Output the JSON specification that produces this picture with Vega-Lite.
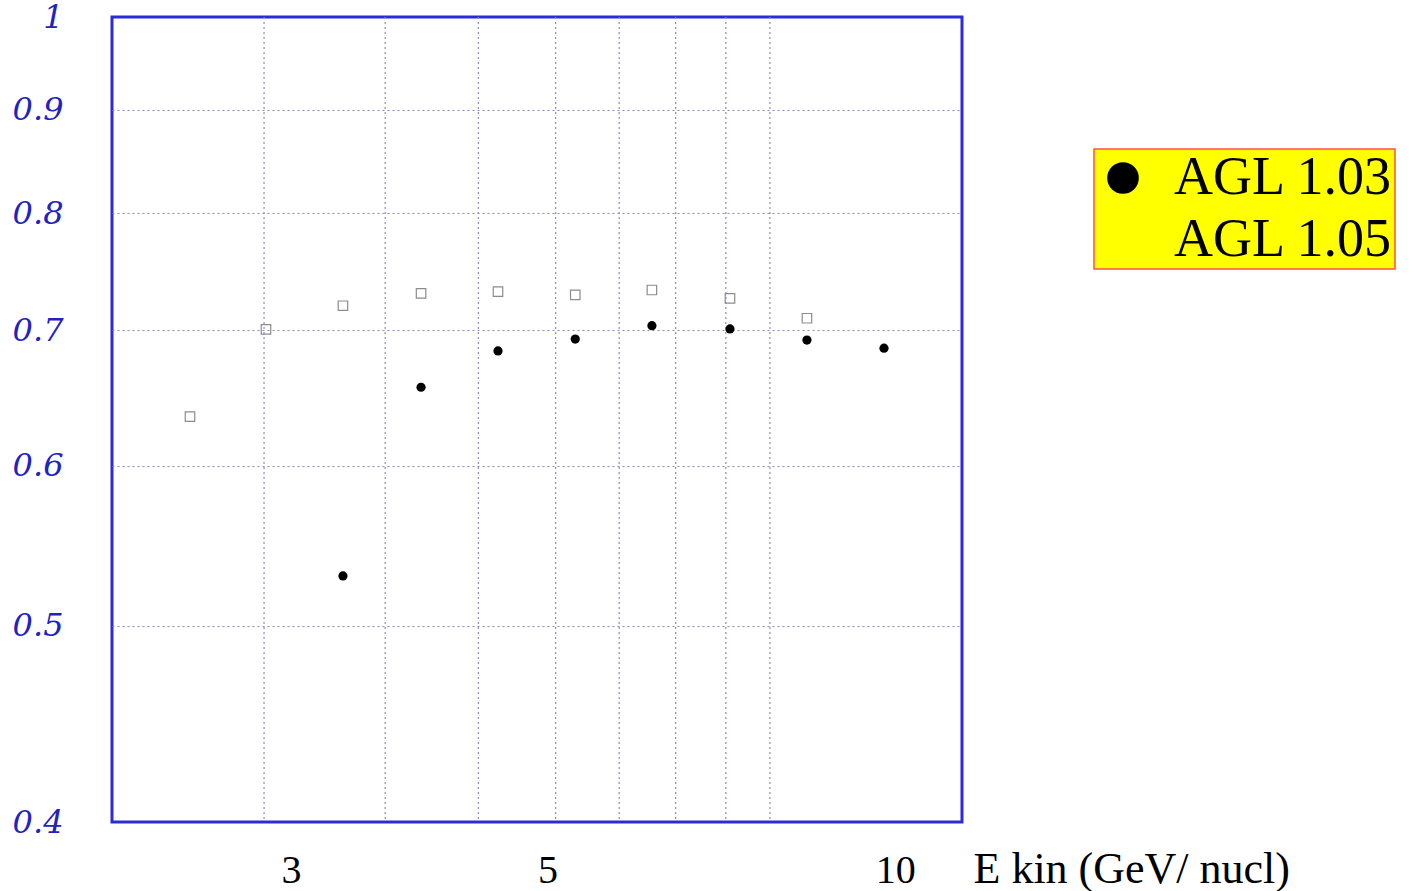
{
  "$schema": "https://vega.github.io/schema/vega-lite/v6.json",
  "autosize": "none",
  "width": 850,
  "height": 805,
  "padding": {"left": 112, "top": 17, "right": 452, "bottom": 69},
  "background": "white",
  "config": {
    "view": {"stroke": "#2b2bd8", "strokeWidth": 3},
    "legend": {
      "orient": "none",
      "legendX": 982,
      "legendY": 132,
      "fillColor": "#ffff00",
      "strokeColor": "#ff5050",
      "strokeWidth": 1.5,
      "padding": 2,
      "symbolSize": 1000,
      "symbolType": "circle",
      "symbolFillColor": "#000000",
      "symbolStrokeWidth": 0,
      "labelFont": "Liberation Serif",
      "labelFontSize": 54,
      "labelColor": "#000000",
      "labelOffset": 24,
      "labelLimit": 400,
      "rowPadding": 8
    }
  },
  "datasets": {
    "agl105": [
      {"x": 2.453, "y": 0.6345, "series": "AGL 1.05"},
      {"x": 2.854, "y": 0.7008, "series": "AGL 1.05"},
      {"x": 3.327, "y": 0.7199, "series": "AGL 1.05"},
      {"x": 3.887, "y": 0.7301, "series": "AGL 1.05"},
      {"x": 4.531, "y": 0.7315, "series": "AGL 1.05"},
      {"x": 5.285, "y": 0.7288, "series": "AGL 1.05"},
      {"x": 6.157, "y": 0.7329, "series": "AGL 1.05"},
      {"x": 7.193, "y": 0.7260, "series": "AGL 1.05"},
      {"x": 8.385, "y": 0.7097, "series": "AGL 1.05"}
    ],
    "agl103": [
      {"x": 3.327, "y": 0.5293, "series": "AGL 1.03"},
      {"x": 3.887, "y": 0.6561, "series": "AGL 1.03"},
      {"x": 4.531, "y": 0.6838, "series": "AGL 1.03"},
      {"x": 5.285, "y": 0.6931, "series": "AGL 1.03"},
      {"x": 6.157, "y": 0.7037, "series": "AGL 1.03"},
      {"x": 7.193, "y": 0.7011, "series": "AGL 1.03"},
      {"x": 8.385, "y": 0.6923, "series": "AGL 1.03"},
      {"x": 9.776, "y": 0.6859, "series": "AGL 1.03"}
    ],
    "grid": [
      {"x": 2.843}, {"x": 3.619}, {"x": 4.357}, {"x": 5.082},
      {"x": 5.768}, {"x": 6.455}, {"x": 7.134}, {"x": 7.789}
    ]
  },
  "encoding": {
    "x": {
      "field": "x",
      "type": "quantitative",
      "scale": {"type": "log", "domain": [2.1, 11.42], "nice": false, "zero": false},
      "axis": {
        "values": [3, 5, 10],
        "format": "~g",
        "grid": false,
        "ticks": false,
        "tickSize": 0,
        "domain": false,
        "labelFont": "Liberation Serif",
        "labelFontSize": 40,
        "labelColor": "#000000",
        "labelBaseline": "alphabetic",
        "labelPadding": 60,
        "labelFlush": false,
        "labelOverlap": false,
        "title": "E kin (GeV/ nucl)",
        "titleFont": "Liberation Serif",
        "titleFontSize": 44,
        "titleFontWeight": "normal",
        "titleColor": "#000000",
        "titleAlign": "left",
        "titleAnchor": null,
        "titleBaseline": "alphabetic",
        "titleX": 861,
        "titleY": 60
      }
    },
    "y": {
      "field": "y",
      "type": "quantitative",
      "scale": {"type": "log", "domain": [0.4, 1], "nice": false, "zero": false},
      "axis": {
        "values": [0.4, 0.5, 0.6, 0.7, 0.8, 0.9, 1],
        "format": "~g",
        "title": null,
        "ticks": false,
        "tickSize": 0,
        "domain": false,
        "grid": true,
        "gridColor": "#8a8ac4",
        "gridDash": [2, 3],
        "gridWidth": 1.2,
        "gridOpacity": {"condition": {"test": "datum.value <= 0.4 || datum.value >= 1", "value": 0}, "value": 1},
        "labelFont": "DejaVu Serif",
        "labelFontStyle": "italic",
        "labelFontSize": 32,
        "labelColor": "#2222c0",
        "labelPadding": 49,
        "labelFlush": false,
        "labelOverlap": false,
        "labelBaseline": "middle"
      }
    }
  },
  "layer": [
    {
      "data": {"name": "grid"},
      "mark": {"type": "rule", "stroke": "#8a8ac4", "strokeWidth": 1.2, "strokeDash": [2, 3]},
      "encoding": {"y": null}
    },
    {
      "data": {"name": "agl105"},
      "mark": {"type": "point", "shape": "square", "filled": false, "stroke": "#8c8c8c", "fill": null, "strokeWidth": 1.2, "size": 90, "opacity": 1}
    },
    {
      "data": {"name": "agl103"},
      "mark": {"type": "point", "shape": "circle", "filled": true, "fill": "#000000", "strokeWidth": 0, "size": 85},
      "encoding": {
        "opacity": {
          "field": "series",
          "type": "nominal",
          "scale": {"domain": ["AGL 1.03", "AGL 1.05"], "range": [1, 0]},
          "legend": {"title": null, "symbolType": "circle", "symbolFillColor": "#000000"}
        }
      }
    }
  ]
}
